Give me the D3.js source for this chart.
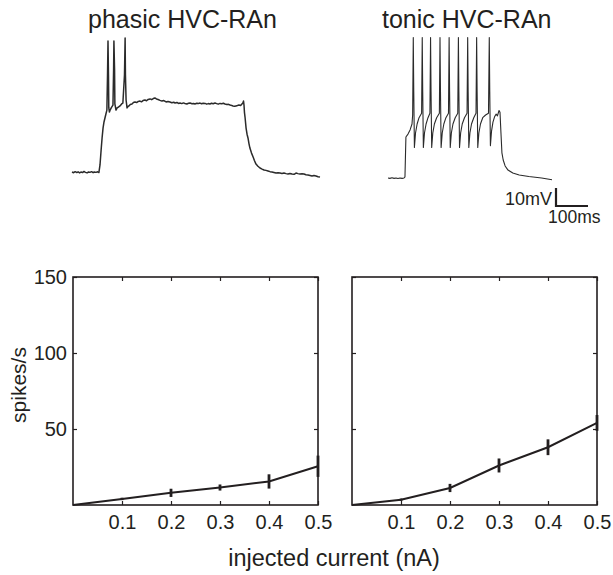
<!DOCTYPE html>
<html>
<head>
<meta charset="utf-8">
<script src="https://cdn.jsdelivr.net/npm/d3@7"></script>
<style>
  body { margin: 0; background: #fff; }
  svg text { font-family: "Liberation Sans", Arial, sans-serif; fill: #231f20; }
</style>
</head>
<body>
<svg id="fig" width="613" height="575"></svg>
<script>
// voltage traces, [time (ms), mV above rest]
const phasicTrace = [[0,0],[5,-0.4],[10,0.2],[15,-0.3],[19,0.1],[24,-0.5],[28,0],[33,-0.3],[37.5,0.3],[42,-0.2],[47,-0.5],[52,0],[56,-0.2],[61,0.2],[66,-0.4],[70,0],[75,-0.2],[80,0.1],[84,-0.3],
  [87.5,3.9],[91,12.2],[94,18.9],[97,24.4],[100,27.8],[103,30],[106,32.2],[109,34.4],[111,53.9],[112.5,72.8],[114,53.9],[115,35.6],[117,33.3],[119,34.4],[123,35.8],[128,37.2],[130,56.7],[131,72.8],[133,56.7],[134,37.8],[137.5,34.4],[141,35.6],[145,36.1],[150,36.7],[155,37.8],[159,38.3],[164,53.9],[166,74.4],[167,53.9],[169,40],[172,35.6],
  [175,36.4],[178,36.7],[182,37.5],[187.5,37.8],[192,38.6],[197,38.9],[202,38.6],[207,39.2],[212.5,39.4],[217,39],[222,39.7],[228,40],[233,39.6],[238,40.3],[244,40.6],[249,40.2],[254,40.8],[259,41.1],[264,40.6],[269,40.3],[275,39.8],[281,39.4],[287,39.7],[294,38.9],[300,39.2],[306,38.9],[312,38.5],[318,38.8],[322,38.3],[328,38.6],[333,38.1],[337.5,38.3],[343,38],[348,38.4],[353,38.1],[359,37.8],[364,38.2],[369,38.3],[375,37.9],[380,38.1],[384,37.8],[390,38.2],[395,38],[400,38.3],[405,37.9],[410,38.2],[416,38.1],[421,37.7],[426,38],[431,37.8],[436,38.2],[441,37.9],[447,38.3],[452,38],[457,37.7],[462.5,38.1],[468,37.9],[473,38.2],[478,37.8],[484,37.5],[489,37.6],[494,37.2],[499,37],[503,36.7],[508,36.5],[512.5,36.7],[517,36.9],[522,37.2],[527,37],[531,37.8],[534,38.4],[536,39.4],
  [537.5,37.2],[539,33],[541,30],[544,24.4],[547,21],[550,18.9],[553,15.8],[556,13.3],[561,10.5],[566,8.3],[570,6.4],[575,4.4],[581,3.2],[587.5,2.2],[594,1.6],[600,1.1],[606,0.9],[612.5,0.6],[619,0.2],[625,0],[631,-0.3],[637.5,-0.6],[644,-0.4],[650,-0.6],[656,-0.8],[662.5,-0.6],[669,-0.9],[675,-1.1],[681,-0.8],[687.5,-1.1],[694,-1.3],[700,-0.6],[706,-0.9],[712.5,-1.1],[719,-1],[725,-1.1],[731,-1.5],[737.5,-1.7],[744,-1.9],[750,-2.2],[756,-2],[762.5,-2.2],[769,-2.6],[775,-2.8]];

const tonicTrace = [[0,0],[6,-0.2],[12.5,0.1],[19,-0.2],[25,0],[31,-0.3],[37.5,0],[44,-0.2],[50,0],[53,0.6],[55,15.6],[56,22.8],[62.5,24.4],[69,26.7],[75,30],[77,35],
  [79,78],[80.5,48],[82.5,17],[86,25],[91,30],[97,33.5],[105,36],
  [107,78],[108.5,48],[110.5,17],[114,25],[119,30],[125,33.5],[131,36],
  [133,78],[134.5,48],[136.5,17],[140,25],[145,30],[152,33.5],[160.5,36],
  [162.5,78],[164,48],[166,17],[169.5,25],[174.5,30],[181,33.5],[189,36],
  [191,78],[192.5,48],[194.5,17],[198,25],[203,30],[210,33.5],[218,36],
  [220,78],[221.5,48],[223.5,17],[227,25],[232,30],[239,33.5],[247,36],
  [249,78],[250.5,48],[252.5,17],[256,25],[261,30],[268,33.5],[275,36],
  [277,78],[278.5,48],[280.5,17],[284,25],[289,30],[296,33.5],[305,35],[314,36],
  [316.5,78],[318,48],[320,18],[323.5,26],[328,31],[333,34],[338,35.5],[342,34.5],[347,37.5],[350,36.5],[353,25],[356,14],[360,10],[366,6.7],[375,4.4],[390,2.8],[410,1.7],[440,0.8],[480,0],[512.5,-1]];

// f-I curves
const currents = [0, 0.1, 0.2, 0.3, 0.4, 0.5];
const phasicRate = [0, 4, 8, 11.5, 15.5, 25.5];
const phasicErr = [0, 0.8, 2.7, 2, 4.7, 7];
const tonicRate = [0, 3.5, 11.2, 26, 38, 54];
const tonicErr = [0, 0.8, 2.7, 4.6, 5.2, 5.2];

const xTickValues = [0.1, 0.2, 0.3, 0.4, 0.5];
const yTickValues = [50, 100, 150];

const svg = d3.select("#fig");
const ink = "#231f20";

// ---- traces ----
const msPx = 0.32, mvPx = 1.8;   // px per ms, px per mV

function drawTrace(data, x0, y0, tMax, title, titleX, lw) {
  let x = d3.scaleLinear().domain([0, tMax]).range([x0, x0 + tMax * msPx]);
  let y = d3.scaleLinear().domain([0, 80]).range([y0, y0 - 80 * mvPx]);
  svg.append("path")
    .datum(data)
    .attr("fill", "none")
    .attr("stroke", "#2b2b2b")
    .attr("stroke-width", lw)
    .attr("stroke-linejoin", "round")
    .attr("d", d3.line().x(d => x(d[0])).y(d => y(d[1])));
  svg.append("text")
    .attr("x", titleX).attr("y", 28)
    .attr("font-size", 25)
    .text(title);
  return {x: x, y: y};
}

drawTrace(phasicTrace, 72, 172, 775, "phasic HVC-RAn", 88, 1.5);
const tonic = drawTrace(tonicTrace, 388, 178, 512.5, "tonic HVC-RAn", 382, 1.1);

// scale bar: 10 mV / 100 ms
const sbX = 556, sbY = 206;
const barW = tonic.x(100) - tonic.x(0);
const barH = tonic.y(0) - tonic.y(10);
svg.append("path")
  .attr("d", `M${sbX},${sbY - barH}V${sbY}H${sbX + barW}`)
  .attr("fill", "none").attr("stroke", ink).attr("stroke-width", 2.2);
svg.append("text").attr("x", sbX - 4).attr("y", sbY - 1)
  .attr("text-anchor", "end").attr("font-size", 18).text("10mV");
svg.append("text").attr("x", sbX - 8).attr("y", sbY + 17)
  .attr("font-size", 17.5).text("100ms");

// ---- f-I panels ----
const plotTop = 277, plotBottom = 505, boxW = 245;
const yRate = d3.scaleLinear().domain([0, 150]).range([plotBottom, plotTop]);

function drawPanel(left, rate, err, showY) {
  let x = d3.scaleLinear().domain([0, 0.5]).range([left, left + boxW]);
  let g = svg.append("g");

  g.append("g").attr("transform", `translate(0,${plotBottom})`)
    .call(d3.axisBottom(x).tickValues(xTickValues).tickSize(-4).tickPadding(10).tickFormat(d3.format(".1f")));
  g.append("g").attr("transform", `translate(0,${plotTop})`)
    .call(d3.axisTop(x).tickValues(xTickValues).tickSize(-4).tickFormat(""));
  g.append("g").attr("transform", `translate(${left},0)`)
    .call(d3.axisLeft(yRate).tickValues(yTickValues).tickSize(-4).tickPadding(6).tickFormat(showY ? d3.format("d") : ""));
  g.append("g").attr("transform", `translate(${left + boxW},0)`)
    .call(d3.axisRight(yRate).tickValues(yTickValues).tickSize(-4).tickFormat(""));

  g.selectAll(".domain").remove();
  g.selectAll(".tick line").attr("stroke", ink).attr("stroke-width", 1.2);
  g.selectAll(".tick text")
    .attr("font-size", 20)
    .attr("font-family", "Liberation Sans, Arial, sans-serif")
    .attr("fill", ink);

  g.append("rect")
    .attr("x", left).attr("y", plotTop)
    .attr("width", boxW).attr("height", plotBottom - plotTop)
    .attr("fill", "none").attr("stroke", ink).attr("stroke-width", 1.6);

  let pts = currents.map((c, i) => ({c: c, r: rate[i], e: err[i]}));
  g.append("path")
    .datum(pts)
    .attr("fill", "none").attr("stroke", ink).attr("stroke-width", 2)
    .attr("d", d3.line().x(d => x(d.c)).y(d => yRate(d.r)));
  g.selectAll(".err")
    .data(pts.filter(d => d.e > 0))
    .enter().append("line")
    .attr("x1", d => x(d.c)).attr("x2", d => x(d.c))
    .attr("y1", d => yRate(d.r - d.e)).attr("y2", d => yRate(d.r + d.e))
    .attr("stroke", ink).attr("stroke-width", 2.8);
}

drawPanel(73, phasicRate, phasicErr, true);
drawPanel(352, tonicRate, tonicErr, false);

// axis titles
svg.append("text")
  .attr("transform", "translate(26,385) rotate(-90)")
  .attr("text-anchor", "middle").attr("font-size", 21)
  .text("spikes/s");
svg.append("text")
  .attr("x", 334).attr("y", 566)
  .attr("text-anchor", "middle").attr("font-size", 23.5)
  .text("injected current (nA)");
</script>
</body>
</html>
